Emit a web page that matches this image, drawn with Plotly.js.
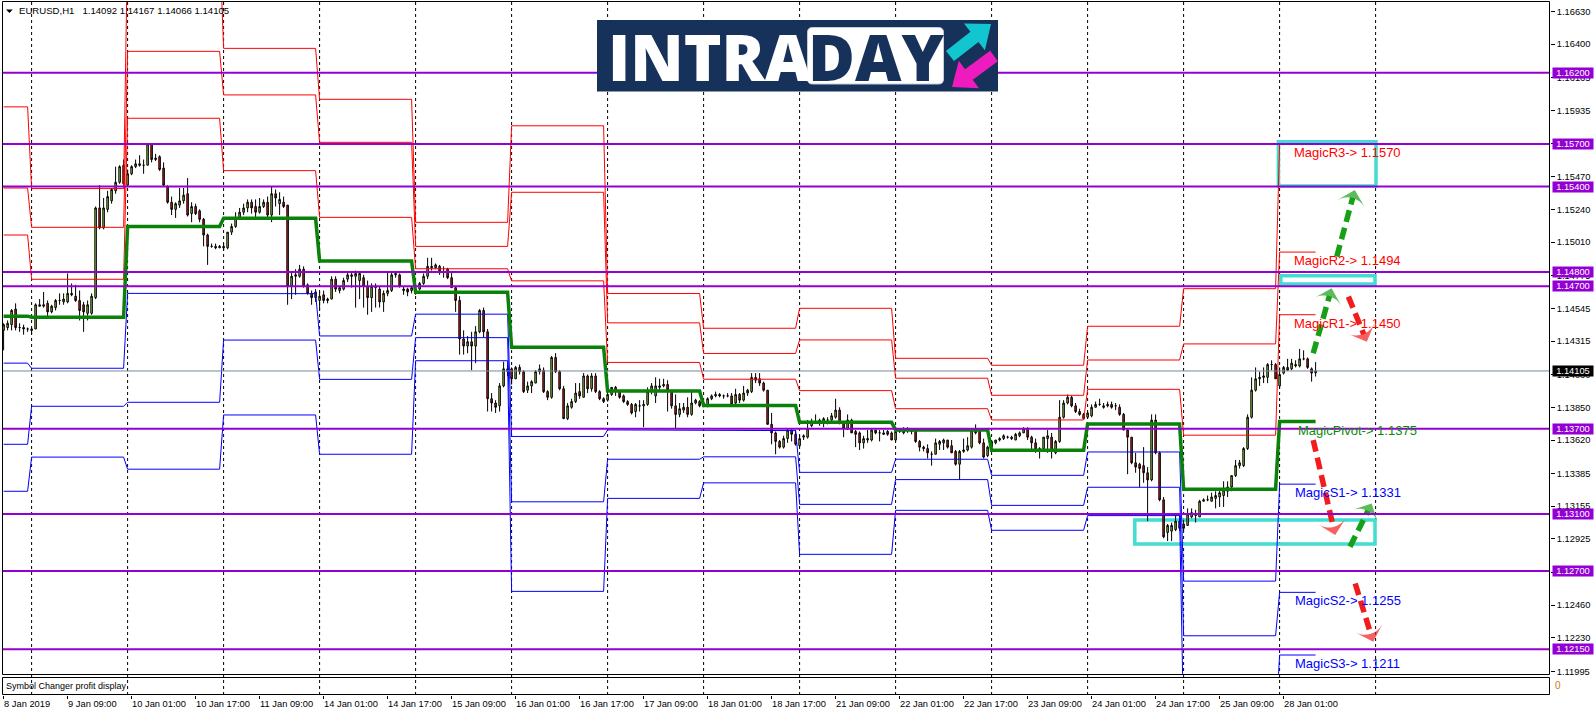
<!DOCTYPE html>
<html><head><meta charset="utf-8">
<script src="https://cdn.plot.ly/plotly-3.0.1.min.js"></script>
<style>html,body{margin:0;padding:0;background:#fff;}#chart{width:1596px;height:716px;}</style>
</head><body><div id="chart"></div>
<script>
// ---------- DATA (prices in pips above 1.1000; bar 0 = 8 Jan 2019 17:00, H1) ----------
const PIP_BASE = 1.1, PIP = 0.0001;
const candleOpen = [
439,441,443,454,441,441,440,440,440,457,456,458,452,455,460,459,459,465,463,460,
457,451,451,462,525,511,524,530,537,543,555,541,549,554,556,555,555,570,559,561,
553,540,529,524,527,530,535,521,526,523,517,506,498,498,497,498,497,508,512,518,
522,525,529,526,522,526,529,520,535,528,529,527,470,477,477,482,471,465,462,460,
464,460,461,475,467,468,475,478,477,474,476,470,462,469,468,459,465,467,478,478,
467,468,467,466,468,472,477,484,483,484,480,482,476,469,460,433,428,431,428,438,
453,438,391,388,386,400,410,412,405,413,410,397,400,402,410,411,396,392,420,410,
398,377,385,389,396,392,407,398,407,396,391,390,394,399,396,393,389,387,382,386,
386,387,396,393,399,400,401,396,386,380,383,385,380,388,389,388,386,391,393,394,
393,393,393,388,394,390,395,396,406,405,402,397,373,367,361,357,363,369,366,358,
364,364,372,375,374,374,376,376,378,383,374,370,376,368,367,360,362,362,369,367,
367,368,367,362,368,367,369,368,369,361,357,356,352,352,359,360,362,358,354,345,
354,355,357,369,368,360,351,357,360,362,363,364,364,362,365,367,370,364,360,354,
356,363,364,353,361,378,388,392,386,382,380,378,379,385,387,386,386,387,386,385,
380,369,364,346,345,344,339,334,376,353,320,297,298,299,305,303,302,308,309,308,
319,320,319,321,322,323,326,329,337,344,344,356,378,397,405,406,406,415,415,400,
409,413,412,414,414,419,419,412,409.2];
const candleHigh = [
444,446,454,458,444,443,441,441,458,461,466,460,457,461,465,465,479,472,471,467,
459,460,465,526,541,532,537,539,554,555,559,552,555,559,562,559,570,570,563,562,
557,541,533,529,539,539,546,529,528,524,518,507,500,500,499,500,508,514,522,525,
528,531,531,531,532,531,533,540,538,536,533,527,480,482,485,484,472,467,468,466,
467,462,477,477,470,476,480,480,481,480,478,474,472,472,470,467,480,480,480,479,
470,469,470,469,473,479,490,490,486,485,484,483,480,470,463,439,435,438,442,454,
455,440,395,390,402,417,415,413,414,415,411,403,404,411,415,413,397,421,423,411,
400,388,391,402,402,409,408,409,409,397,392,394,399,400,397,394,390,388,388,390,
390,399,402,406,405,405,404,397,394,388,388,392,396,391,390,389,392,394,396,395,
394,395,395,398,395,400,398,409,409,409,403,397,381,368,362,365,370,370,369,365,
366,376,377,380,377,378,378,381,391,385,375,380,377,369,368,365,369,370,369,369,
369,369,368,369,370,371,371,370,369,362,358,359,354,363,362,363,362,362,355,355,
363,364,370,373,369,363,358,362,362,364,366,365,365,367,368,371,371,365,363,357,
364,369,367,362,390,390,394,393,388,384,381,382,387,389,391,388,389,389,388,387,
381,370,364,353,346,357,343,380,380,354,322,303,304,309,309,306,314,314,313,320,
321,323,325,326,327,333,333,337,348,348,357,380,406,413,410,413,416,418,416,413,
414,419,419,418,426,425,420,413,416.7];
const candleLow = [
425,439,439,439,438,436,438,436,440,456,455,449,451,453,457,457,458,463,459,446,
438,446,450,461,510,510,522,528,535,542,541,540,548,553,554,549,555,557,558,551,
540,528,520,518,525,528,519,515,520,515,498,485,497,496,497,495,496,506,511,517,
520,522,521,517,521,525,517,515,526,520,525,457,461,464,476,469,464,457,459,453,
458,458,461,466,465,467,473,469,455,461,455,450,452,455,455,452,463,466,476,469,
464,463,465,464,467,471,475,481,482,478,476,475,469,452,422,422,423,411,416,437,
434,382,382,381,382,399,407,401,405,408,395,395,395,402,408,395,390,391,409,397,
377,376,384,388,391,392,395,396,395,390,388,389,393,393,391,388,386,380,378,382,
371,386,394,388,396,399,382,384,370,378,381,378,379,387,385,385,385,390,392,392,
391,392,386,387,388,389,393,395,402,400,396,373,359,352,356,356,360,361,358,357,
362,363,371,374,372,371,373,375,377,373,364,369,367,357,355,356,360,361,366,361,
366,365,362,361,367,366,367,366,360,354,354,349,344,352,355,355,356,353,344,334,
353,354,356,366,359,349,350,356,359,361,362,363,362,362,364,367,362,355,353,349,
354,353,349,352,360,377,387,385,381,379,377,377,378,385,386,384,385,384,383,379,
369,338,345,339,329,332,305,333,352,319,293,291,291,298,298,298,302,307,304,308,
319,319,319,314,315,315,322,326,336,342,343,355,377,396,400,402,402,411,405,398,
408,411,411,413,413,418,412,403,406.6];
const candleClose = [
443,444,453,441,441,440,440,439,457,456,457,452,456,460,460,461,465,464,460,453,
452,457,463,525,511,525,533,538,543,554,542,549,554,556,555,555,570,559,560,552,
541,529,524,528,530,534,520,526,521,517,506,498,498,497,498,497,508,512,518,522,
525,529,525,522,526,529,520,535,532,531,526,470,477,478,482,470,465,462,466,463,
460,461,475,468,469,474,478,477,479,479,470,462,470,470,459,465,467,478,479,470,
468,466,469,468,472,477,484,483,485,480,480,476,469,460,433,428,431,428,438,453,
438,391,388,385,400,412,412,405,413,410,396,400,403,410,412,396,392,420,410,398,
377,386,389,395,393,407,398,407,396,391,389,394,399,396,392,389,387,381,387,386,
387,396,400,400,400,401,397,386,380,384,385,380,388,390,386,386,391,393,394,393,
393,393,387,394,390,395,397,406,404,402,397,373,367,361,357,363,369,366,359,363,
365,370,375,375,376,377,376,379,383,374,370,376,367,366,360,363,363,369,367,367,
366,366,362,368,368,369,369,369,361,357,356,353,352,360,361,362,357,353,345,354,
355,358,369,367,360,350,357,361,362,363,365,364,363,366,367,370,364,360,355,356,
364,365,354,361,378,388,392,386,382,380,377,381,385,387,387,385,387,385,386,380,
369,364,346,343,342,339,334,376,353,320,294,302,302,305,300,300,310,311,309,319,
320,320,322,323,325,327,329,337,344,346,356,378,397,405,406,407,415,415,405,408,
413,411,416,415,419,419,413,409,410.5];

// daily pivot levels (pips above 1.1000), one value per trading day
const dayStart = [0,7,31,55,79,103,127,151,175,199,223,247,271,295,319];
const levelR3 = [596,538.6,712,637.1,601.3,514.9,582.7,464.9,440.5,454.5,419.4,414.5,441.9,468.3,570];
const levelR2 = [539,511.4,635,604.4,571.1,498.0,536.0,444.3,422.8,432.3,405.4,393.4,418.2,429.5,494];
const levelR1 = [506,474.9,588,551.2,518.4,482.3,473.8,416.5,404.7,396.7,384.0,376.1,397.6,365.4,450];
const levelPP = [449,448.2,512,517.7,487.8,465.8,427.2,396.4,386.3,374.4,369.1,354.8,373.3,327.5,375];
const levelS1 = [416,412.4,465,464.8,435.1,450.4,364.5,369.1,368.6,339.3,348.5,337.2,353.6,262.9,331];
const levelS2 = [359,385.7,388.5,432.2,404.6,433.9,318.6,348.5,350.2,316.8,334.2,316.1,328.8,224.5,255];
const levelS3 = [326,350.0,341.5,379.6,352.0,417.7,255.7,321.0,331.9,281.7,312.6,298.6,308.9,160.4,211];

// axes
const gridBars = [7,31,55,79,103,127,151,175,199,223,247,271,295,319,343];
const tickBars = [0,16,32,48,64,80,96,112,128,144,160,176,192,208,224,240,256,272,288,304,320];
const tickLabels = ['8 Jan 2019','9 Jan 09:00','10 Jan 01:00','10 Jan 17:00','11 Jan 09:00','14 Jan 01:00',
  '14 Jan 17:00','15 Jan 09:00','16 Jan 01:00','16 Jan 17:00','17 Jan 09:00','18 Jan 01:00','18 Jan 17:00',
  '21 Jan 09:00','22 Jan 01:00','22 Jan 17:00','23 Jan 09:00','24 Jan 01:00','24 Jan 17:00','25 Jan 09:00','28 Jan 01:00'];
const priceTicks = [1.16630,1.16400,1.16165,1.15935,1.15705,1.15470,1.15240,1.15010,1.14775,1.14545,1.14315,
  1.14080,1.13850,1.13620,1.13385,1.13155,1.12925,1.12690,1.12460,1.12230,1.11995];

// horizontal levels, bid line, labels
const hLevels = [1.16200,1.15700,1.15400,1.14800,1.14700,1.13700,1.13100,1.12700,1.12150];
const lastPrice = 1.14105;
const headerText = 'EURUSD,H1\u00a0\u00a0 1.14092 1.14167 1.14066 1.14105';
const magicNames = ['MagicR3','MagicR2','MagicR1','MagicPivot','MagicS1','MagicS2','MagicS3'];
const magicValues = [1.1570,1.1494,1.1450,1.1375,1.1331,1.1255,1.1211];
const magicColors = ['#ff0000','#ff0000','#ff0000','#0a8a0a','#0000ff','#0000ff','#0000ff'];
const magicBar = [322.2,322.2,322.2,323.2,322.4,322.4,322.4];

// drawn zones and forecast arrows (bar index / price)
const zoneX0 = [318.7,319.3,282.8], zoneX1 = [343.1,342.85,342.85];
const zoneLow = [1.15404,1.14716,1.12889], zoneHigh = [1.15715,1.14774,1.13058];
const arrowX0 = [327.4,333.3,336.2,327.4,336.6,337.9];
const arrowY0 = [1.14229,1.14908,1.14627,1.13620,1.12870,1.12612];
const arrowX1 = [332.0,337.8,340.8,332.9,342.0,342.4];
const arrowY1 = [1.14686,1.15376,1.14311,1.12952,1.13174,1.12203];
const arrowUp = [true,true,false,false,true,false];

// ---------- BUILD ----------
const toPrice = v => +(PIP_BASE + v * PIP).toFixed(5);
const bars = candleOpen.map((_, i) => i);
const lastBar = bars.length - 1;
const W = 1596, H = 716, ML = 2, MR = 46, MT = 2, MB = 21;
const PW = W - ML - MR, PH = H - MT - MB;
const px = x => (x - ML) / PW;
const py = y => (H - MB - y) / PH;

function stepLine(levels) {
  const xs = [], ys = [];
  levels.forEach((v, d) => {
    const s = dayStart[d];
    const e = d < dayStart.length - 1 ? dayStart[d + 1] - 1 : lastBar;
    xs.push(s, e); ys.push(toPrice(v), toPrice(v));
  });
  return {xs, ys};
}

const data = [];
data.push({x:[0], y:[0.5], xaxis:'x', yaxis:'y2', mode:'markers', marker:{opacity:0}, hoverinfo:'skip', showlegend:false});
data.push({
  type:'candlestick', x:bars,
  open:candleOpen.map(toPrice), high:candleHigh.map(toPrice), low:candleLow.map(toPrice), close:candleClose.map(toPrice),
  increasing:{line:{color:'#000000', width:1}, fillcolor:'#9fd83a'},
  decreasing:{line:{color:'#000000', width:1}, fillcolor:'#d8201e'},
  whiskerwidth:0, hoverinfo:'skip', showlegend:false, xaxis:'x', yaxis:'y'
});
const levelSets = [[levelR3,'#ff0000',1],[levelR2,'#ff0000',1],[levelR1,'#ff0000',1],
  [levelS1,'#0000ff',1],[levelS2,'#0000ff',1],[levelS3,'#0000ff',1],[levelPP,'#0a820a',3.5]];
levelSets.forEach(([lv, col, w]) => {
  const s = stepLine(lv);
  data.push({x:s.xs, y:s.ys, mode:'lines', line:{color:col, width:w}, hoverinfo:'skip', showlegend:false, xaxis:'x', yaxis:'y'});
});
arrowX0.forEach((_, k) => {
  const col = arrowUp[k] ? '#17a017' : '#f21c1c';
  data.push({x:[arrowX0[k], arrowX1[k]], y:[arrowY0[k], arrowY1[k]], mode:'lines+markers',
    line:{color:col, width:5.5, dash:'12px,6px'},
    marker:{symbol:'arrow-wide', size:[0,20], angleref:'previous', color:col, line:{width:0}},
    hoverinfo:'skip', showlegend:false, xaxis:'x', yaxis:'y'});
});

const shapes = [];
gridBars.forEach(g => shapes.push({type:'line', xref:'x', yref:'paper', x0:g, x1:g, y0:0, y1:1,
  line:{color:'#000000', width:1, dash:'3px,3px'}, layer:'below'}));
zoneX0.forEach((_, k) => shapes.push({type:'rect', xref:'x', yref:'y', x0:zoneX0[k], x1:zoneX1[k], y0:zoneLow[k], y1:zoneHigh[k],
  line:{color:'#40ddd0', width:3.5}, fillcolor:'rgba(0,0,0,0)', layer:'below'}));
hLevels.forEach(l => shapes.push({type:'line', xref:'paper', yref:'y', x0:0, x1:1, y0:l, y1:l,
  line:{color:'#9400d3', width:2}, layer:'above'}));
shapes.push({type:'line', xref:'paper', yref:'y', x0:0, x1:1, y0:lastPrice, y1:lastPrice, line:{color:'#778899', width:1}, layer:'above'});
// pane borders (crisp, on half pixels)
shapes.push({type:'rect', xref:'paper', yref:'paper', x0:px(2.5), x1:px(1549.5), y0:py(674.5), y1:py(1.5), line:{color:'#000', width:1}, layer:'above'});
shapes.push({type:'rect', xref:'paper', yref:'paper', x0:px(2.5), x1:px(1549.5), y0:py(694.5), y1:py(677.5), line:{color:'#000', width:1}, layer:'above'});
// header triangle
shapes.push({type:'path', xref:'paper', yref:'paper', path:`M${px(6)},${py(9.5)} L${px(12.8)},${py(9.5)} L${px(9.4)},${py(13)} Z`,
  fillcolor:'#000', line:{width:0}, layer:'above'});

// logo
const NAVY = '#17325a';
shapes.push({type:'rect', xref:'paper', yref:'paper', x0:px(597), x1:px(998), y0:py(91.5), y1:py(20), fillcolor:NAVY, line:{width:0}, layer:'above'});
function roundRect(x0, y0, x1, y1, r) {
  const rx = r / PW, ry = r / PH;
  const X0 = px(x0), X1 = px(x1), Y0 = py(y1), Y1 = py(y0);
  return `M${X0+rx},${Y0} L${X1-rx},${Y0} Q${X1},${Y0} ${X1},${Y0+ry} L${X1},${Y1-ry} Q${X1},${Y1} ${X1-rx},${Y1} ` +
         `L${X0+rx},${Y1} Q${X0},${Y1} ${X0},${Y1-ry} L${X0},${Y0+ry} Q${X0},${Y0} ${X0+rx},${Y0} Z`;
}
shapes.push({type:'path', xref:'paper', yref:'paper', path:roundRect(807.5, 27.5, 943.5, 84, 5), fillcolor:'#ffffff', line:{color:'#c8ccd4', width:1}, layer:'above'});
function arrowPath(tx, ty, bx, by, bodyW, headW, headL) {
  let dx = tx - bx, dy = ty - by; const n = Math.hypot(dx, dy); dx /= n; dy /= n;
  const nx = -dy, ny = dx;
  const hx = tx - dx * headL, hy = ty - dy * headL;
  const pts = [[bx + nx*bodyW/2, by + ny*bodyW/2], [hx + nx*bodyW/2, hy + ny*bodyW/2], [hx + nx*headW/2, hy + ny*headW/2],
    [tx, ty], [hx - nx*headW/2, hy - ny*headW/2], [hx - nx*bodyW/2, hy - ny*bodyW/2], [bx - nx*bodyW/2, by - ny*bodyW/2]];
  return pts.map((p, i) => (i ? 'L' : 'M') + px(p[0]) + ',' + py(p[1])).join(' ') + ' Z';
}
shapes.push({type:'path', xref:'paper', yref:'paper', path:arrowPath(991, 24, 950, 56, 13, 34, 21), fillcolor:'#12c6d0', line:{width:0}, layer:'above'});
shapes.push({type:'path', xref:'paper', yref:'paper', path:arrowPath(952, 87, 994, 56, 13, 34, 21), fillcolor:'#ee1cbe', line:{width:0}, layer:'above'});

const annotations = [];
annotations.push({xref:'paper', yref:'paper', x:px(17), y:py(10.8), xanchor:'left', yanchor:'middle', showarrow:false,
  text:headerText, font:{size:9.6, color:'#000'}});
annotations.push({xref:'paper', yref:'paper', x:px(4), y:py(685.5), xanchor:'left', yanchor:'middle', showarrow:false,
  text:'Symbol Changer profit display', font:{size:9, color:'#000'}});
annotations.push({xref:'paper', yref:'paper', x:1, xshift:3, y:py(685.5), xanchor:'left', yanchor:'middle', showarrow:false,
  text:'0', font:{size:10, color:'#d07a10'}});
hLevels.forEach(l => annotations.push({xref:'paper', yref:'y', x:1, xshift:1.5, y:l, xanchor:'left', yanchor:'middle', showarrow:false,
  text:l.toFixed(5), bgcolor:'#9400d3', font:{size:9.3, color:'#ffffff'}, width:40, height:10, borderpad:0}));
annotations.push({xref:'paper', yref:'y', x:1, xshift:1.5, y:lastPrice, xanchor:'left', yanchor:'middle', showarrow:false,
  text:lastPrice.toFixed(5), bgcolor:'#000000', font:{size:9.3, color:'#ffffff'}, width:40, height:10, borderpad:0});
magicNames.forEach((nm, k) => annotations.push({xref:'x', yref:'y', x:magicBar[k], y:magicValues[k], xanchor:'left', yanchor:'top',
  showarrow:false, text:nm + '-> ' + magicValues[k].toFixed(4), font:{size:13, color:magicColors[k]}, yshift:1}));
annotations.push({xref:'paper', yref:'paper', x:px(606), y:py(56.5), xanchor:'left', yanchor:'middle', showarrow:false,
  text:'INTRA', font:{family:'Open Sans, Lato, sans-serif', size:64, weight:800, color:'#ffffff'}});
annotations.push({xref:'paper', yref:'paper', x:px(875.5), y:py(56.5), xanchor:'center', yanchor:'middle', showarrow:false,
  text:'DAY', font:{family:'Open Sans, Lato, sans-serif', size:64, weight:800, color:NAVY}});

const layout = {
  width:W, height:H, autosize:false,
  margin:{l:ML, r:MR, t:MT, b:MB, pad:0},
  paper_bgcolor:'#ffffff', plot_bgcolor:'#ffffff',
  font:{family:'Liberation Sans, Arial, sans-serif', size:9.3, color:'#000'},
  showlegend:false, hovermode:false, boxgap:0.45,
  xaxis:{domain:[0,1], anchor:'y2', range:[-0.4, 386.6], tickmode:'array', tickvals:tickBars, ticktext:tickLabels,
    ticks:'outside', ticklen:3, tickcolor:'#000', tickangle:0, ticklabelposition:'outside right',
    showgrid:false, zeroline:false, showline:false, rangeslider:{visible:false}, fixedrange:true,
    tickfont:{size:9.3, color:'#000'}},
  yaxis:{domain:[(H - MB - 675) / PH, 1], anchor:'x', side:'right', range:[1.119695, 1.166966],
    tickmode:'array', tickvals:priceTicks, ticktext:priceTicks.map(v => v.toFixed(5)),
    ticks:'outside', ticklen:4, tickcolor:'#000', showgrid:false, zeroline:false, showline:false, fixedrange:true,
    tickfont:{size:9.3, color:'#000'}},
  yaxis2:{domain:[0, (H - MB - 677) / PH], anchor:'x', range:[0,1], showticklabels:false, ticks:'',
    showgrid:false, zeroline:false, showline:false, fixedrange:true},
  shapes:shapes, annotations:annotations
};
Plotly.newPlot('chart', data, layout, {staticPlot:true, displayModeBar:false});
</script>
</body></html>
